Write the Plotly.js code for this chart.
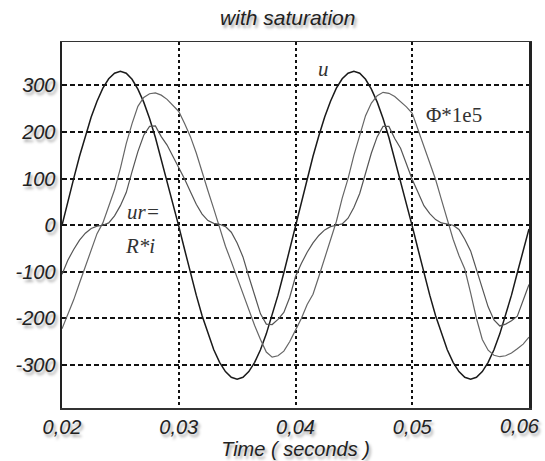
<!DOCTYPE html>
<html>
<head>
<meta charset="utf-8">
<script src="https://cdn.plot.ly/plotly-3.0.1.min.js"></script>
<style>html,body{margin:0;padding:0;background:#fff;}#chart{width:545px;height:461px;}</style>
</head>
<body>
<div id="chart"></div>
<script>
// time in seconds
var time = [
0.0200,0.0205,0.0210,0.0215,0.0220,0.0225,0.0230,0.0235,0.0240,0.0245,
0.0250,0.0255,0.0260,0.0265,0.0270,0.0275,0.0280,0.0285,0.0290,0.0295,
0.0300,0.0305,0.0310,0.0315,0.0320,0.0325,0.0330,0.0335,0.0340,0.0345,
0.0350,0.0355,0.0360,0.0365,0.0370,0.0375,0.0380,0.0385,0.0390,0.0395,
0.0400,0.0405,0.0410,0.0415,0.0420,0.0425,0.0430,0.0435,0.0440,0.0445,
0.0450,0.0455,0.0460,0.0465,0.0470,0.0475,0.0480,0.0485,0.0490,0.0495,
0.0500,0.0505,0.0510,0.0515,0.0520,0.0525,0.0530,0.0535,0.0540,0.0545,
0.0550,0.0555,0.0560,0.0565,0.0570,0.0575,0.0580,0.0585,0.0590,0.0595,
0.0600];
// supply voltage u
var uVals = [
0,52,100,148,192,232,266,294,314,326,
330,326,313,292,264,229,188,142,94,46,
-2,-52,-102,-150,-194,-233,-267,-294,-314,-326,
-330,-326,-314,-294,-267,-233,-194,-150,-102,-52,
0,52,100,148,192,232,266,294,314,326,
330,326,313,292,264,229,188,142,94,46,
-2,-52,-102,-150,-194,-233,-267,-294,-314,-326,
-330,-326,-314,-294,-267,-233,-194,-150,-102,-55,
-8];
// flux Phi * 1e5
var phiVals = [
-222,-192,-160,-124,-88,-50,-18,5,40,76,
122,175,218,255,274,282,284,279,270,258,
244,218,190,155,113,74,35,-5,-45,-78,
-112,-147,-182,-215,-245,-272,-283,-280,-270,-250,
-225,-200,-170,-148,-110,-72,-30,8,58,100,
150,195,235,262,278,285,283,276,265,254,
240,205,170,135,98,55,10,-30,-65,-94,
-145,-200,-245,-268,-279,-282,-280,-274,-265,-255,
-240];
// ur = R*i
var urVals = [
-105,-75,-52,-32,-17,-7,-2,0,5,20,
42,70,115,158,193,212,213,190,172,148,
122,99,72,45,24,10,4,2,-3,-15,
-38,-68,-110,-152,-190,-212,-213,-202,-187,-155,
-110,-82,-58,-38,-22,-10,-3,0,3,15,
38,68,112,155,190,212,212,186,165,130,
98,70,42,25,12,5,2,0,-9,-30,
-55,-95,-135,-175,-203,-216,-212,-205,-195,-160,
-127];

var xTickVals = [0.02, 0.03, 0.04, 0.05, 0.06];
var xTickText = ['0,02', '0,03', '0,04', '0,05', '0,06'];
var yTickVals = [-300, -200, -100, 0, 100, 200, 300];
var yTickText = ['-300', '-200', '-100', '0', '100', '200', '300'];

var labelText = ['u', 'Φ*1e5', 'ur=', 'R*i'];
var labelX = [0.0424, 0.0536, 0.0270, 0.0267];
var labelY = [335, 236, 28, -45];

var shadow = '2px 3px 3px rgba(0,0,0,0.35)';
var tickFont = {family: 'Liberation Sans, Arial, sans-serif', size: 20, color: '#222222', style: 'italic', shadow: shadow};

var traces = [
  {x: time, y: uVals, mode: 'lines', line: {color: '#1a1a1a', width: 1.5}, hoverinfo: 'skip'},
  {x: time, y: phiVals, mode: 'lines', line: {color: '#666666', width: 1.2}, hoverinfo: 'skip'},
  {x: time, y: urVals, mode: 'lines', line: {color: '#555555', width: 1.2}, hoverinfo: 'skip'}
];

var annotations = labelText.map(function (t, i) {
  var italic = (i !== 1);
  return {
    x: labelX[i], y: labelY[i], xref: 'x', yref: 'y', text: t, showarrow: false,
    font: {family: 'Liberation Serif, Times New Roman, serif', size: 21, color: '#333333', style: italic ? 'italic' : 'normal'},
    xanchor: 'center', yanchor: 'middle'
  };
});
// last x tick label, kept inside the page edge like in the reference
var lastIdx = xTickVals.length - 1;
annotations.push({
  x: xTickVals[lastIdx], y: 0, xref: 'x', yref: 'paper', text: xTickText[lastIdx], showarrow: false,
  font: tickFont, xanchor: 'right', yanchor: 'middle', xshift: 13, yshift: -18
});
var shownTickText = xTickText.map(function (t, i) { return i === lastIdx ? ' ' : t; });

var layout = {
  width: 545, height: 461,
  paper_bgcolor: '#ffffff', plot_bgcolor: '#ffffff',
  margin: {l: 62, r: 16, t: 42, b: 53, pad: 0},
  showlegend: false,
  separators: ',.',
  font: {family: 'Liberation Sans, Arial, sans-serif', color: '#222222'},
  title: {
    text: 'with saturation',
    font: {family: 'Liberation Sans, Arial, sans-serif', size: 21, color: '#222222', style: 'italic', shadow: shadow},
    x: 0.528, xanchor: 'center', y: 0.962, yanchor: 'middle'
  },
  xaxis: {
    range: [0.0199995, 0.0600005],
    tickmode: 'array', tickvals: xTickVals, ticktext: shownTickText,
    tickfont: tickFont,
    ticks: '', showgrid: true, gridcolor: '#111111', griddash: '3px,3px', gridwidth: 2,
    showline: true, linecolor: '#333333', linewidth: 1.5, mirror: true,
    zeroline: false,
    title: {text: 'Time ( seconds )', font: {family: 'Liberation Sans, Arial, sans-serif', size: 20, color: '#222222', style: 'italic', shadow: shadow}, standoff: 2}
  },
  yaxis: {
    range: [-392, 393],
    tickmode: 'array', tickvals: yTickVals, ticktext: yTickText,
    tickfont: tickFont,
    ticks: '', showgrid: true, gridcolor: '#111111', griddash: '5px,3px', gridwidth: 2,
    showline: true, linecolor: '#222222', linewidth: 2.5, mirror: true,
    zeroline: false
  },
  annotations: annotations
};

Plotly.newPlot('chart', traces, layout, {staticPlot: true, displayModeBar: false});
</script>
</body>
</html>
